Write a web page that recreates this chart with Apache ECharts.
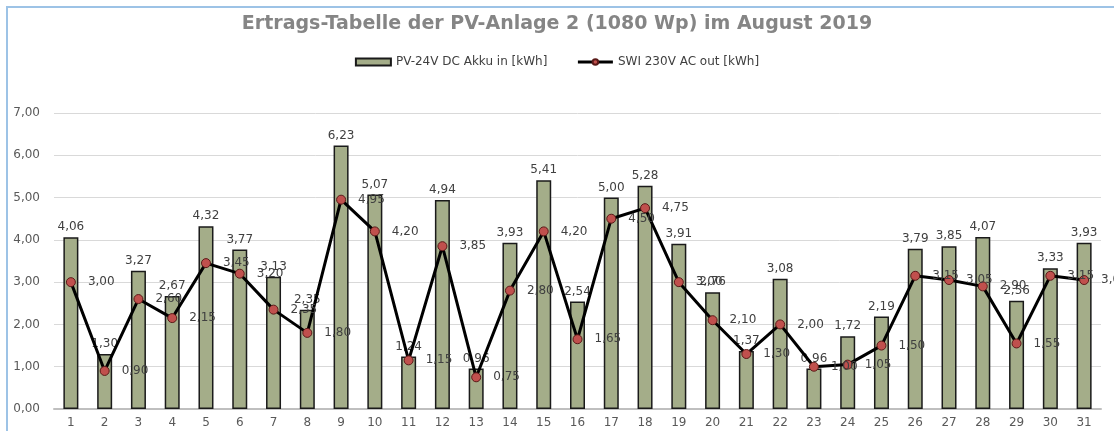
<!DOCTYPE html>
<html>
<head>
<meta charset="utf-8">
<script src="https://cdn.jsdelivr.net/npm/echarts@6/dist/echarts.min.js"></script>
<style>
  html, body { margin: 0; padding: 0; background: #fff; }
  #chart { width: 1114px; height: 431px; }
</style>
</head>
<body>
<div id="chart"></div>
<script>
// Tage im August 2019
const days = ['1','2','3','4','5','6','7','8','9','10','11','12','13','14','15','16','17','18','19','20','21','22','23','24','25','26','27','28','29','30','31']
// PV-24V DC Akku in [kWh]
const akkuIn = [4.06, 1.30, 3.27, 2.67, 4.32, 3.77, 3.13, 2.35, 6.23, 5.07, 1.24, 4.94, 0.96, 3.93, 5.41, 2.54, 5.00, 5.28, 3.91, 2.76, 1.37, 3.08, 0.96, 1.72, 2.19, 3.79, 3.85, 4.07, 2.56, 3.33, 3.93]
// SWI 230V AC out [kWh]
const acOut = [3.00, 0.90, 2.60, 2.15, 3.45, 3.20, 2.35, 1.80, 4.95, 4.20, 1.15, 3.85, 0.75, 2.80, 4.20, 1.65, 4.50, 4.75, 3.00, 2.10, 1.30, 2.00, 1.00, 1.05, 1.50, 3.15, 3.05, 2.90, 1.55, 3.15, 3.05]
const yTicks = [0, 1, 2, 3, 4, 5, 6, 7]

const fmt = v => Number(v).toFixed(2).replace('.', ',')
const labelFont = 'DejaVu Sans, Verdana, sans-serif'

const chart = echarts.init(document.getElementById('chart'))
chart.setOption({
  animation: false,
  title: {
    text: 'Ertrags-Tabelle der PV-Anlage 2 (1080 Wp) im August 2019',
    left: 'center',
    top: 10,
    textStyle: {
      fontFamily: 'DejaVu Sans',
      fontSize: 19,
      fontWeight: 'bold',
      color: '#858585'
    }
  },
  graphic: [{
    type: 'polyline',
    shape: { points: [[7, 431], [7, 7], [1114, 7]] },
    style: { stroke: '#9dc3e6', lineWidth: 2, fill: null },
    silent: true
  }],
  legend: {
    top: 51,
    left: 'center',
    itemGap: 29,
    itemWidth: 35,
    itemHeight: 7,
    textStyle: {
      fontFamily: labelFont,
      fontSize: 12,
      color: '#404040'
    },
    data: [
      { name: 'PV-24V DC Akku in [kWh]', icon: 'rect' },
      { name: 'SWI 230V AC out [kWh]', lineStyle: { width: 3, color: '#000' } }
    ]
  },
  grid: {
    left: 54,
    right: 13,
    top: 113,
    bottom: 22,
    containLabel: false
  },
  xAxis: {
    type: 'category',
    data: days,
    axisTick: { show: false },
    axisLine: { lineStyle: { color: '#bfbfbf', width: 2 } },
    axisLabel: {
      margin: 8,
      fontFamily: labelFont,
      fontSize: 12,
      color: '#595959'
    }
  },
  yAxis: {
    type: 'value',
    min: yTicks[0],
    max: yTicks[yTicks.length - 1],
    interval: 1,
    axisLine: { show: false },
    axisTick: { show: false },
    splitLine: { lineStyle: { color: '#d9d9d9', width: 1 } },
    axisLabel: {
      margin: 14,
      fontFamily: labelFont,
      fontSize: 12,
      color: '#595959',
      formatter: fmt
    }
  },
  series: [{
    name: 'PV-24V DC Akku in [kWh]',
    type: 'bar',
    data: akkuIn,
    barWidth: 15,
    itemStyle: {
      color: '#a4ad89',
      borderColor: '#1a1a1a',
      borderWidth: 1.5
    },
    label: {
      show: true,
      position: 'top',
      distance: 4,
      fontFamily: labelFont,
      fontSize: 12,
      color: '#404040',
      formatter: p => fmt(p.value)
    },
    z: 2
  }, {
    name: 'SWI 230V AC out [kWh]',
    type: 'line',
    data: acOut,
    symbol: 'circle',
    symbolSize: 9,
    lineStyle: { color: '#000', width: 3 },
    itemStyle: {
      color: '#c0504d',
      borderColor: '#5a1a18',
      borderWidth: 1
    },
    label: {
      show: true,
      position: 'right',
      distance: 12,
      fontFamily: labelFont,
      fontSize: 12,
      color: '#404040',
      formatter: p => fmt(p.value)
    },
    z: 3
  }]
})
</script>
</body>
</html>
